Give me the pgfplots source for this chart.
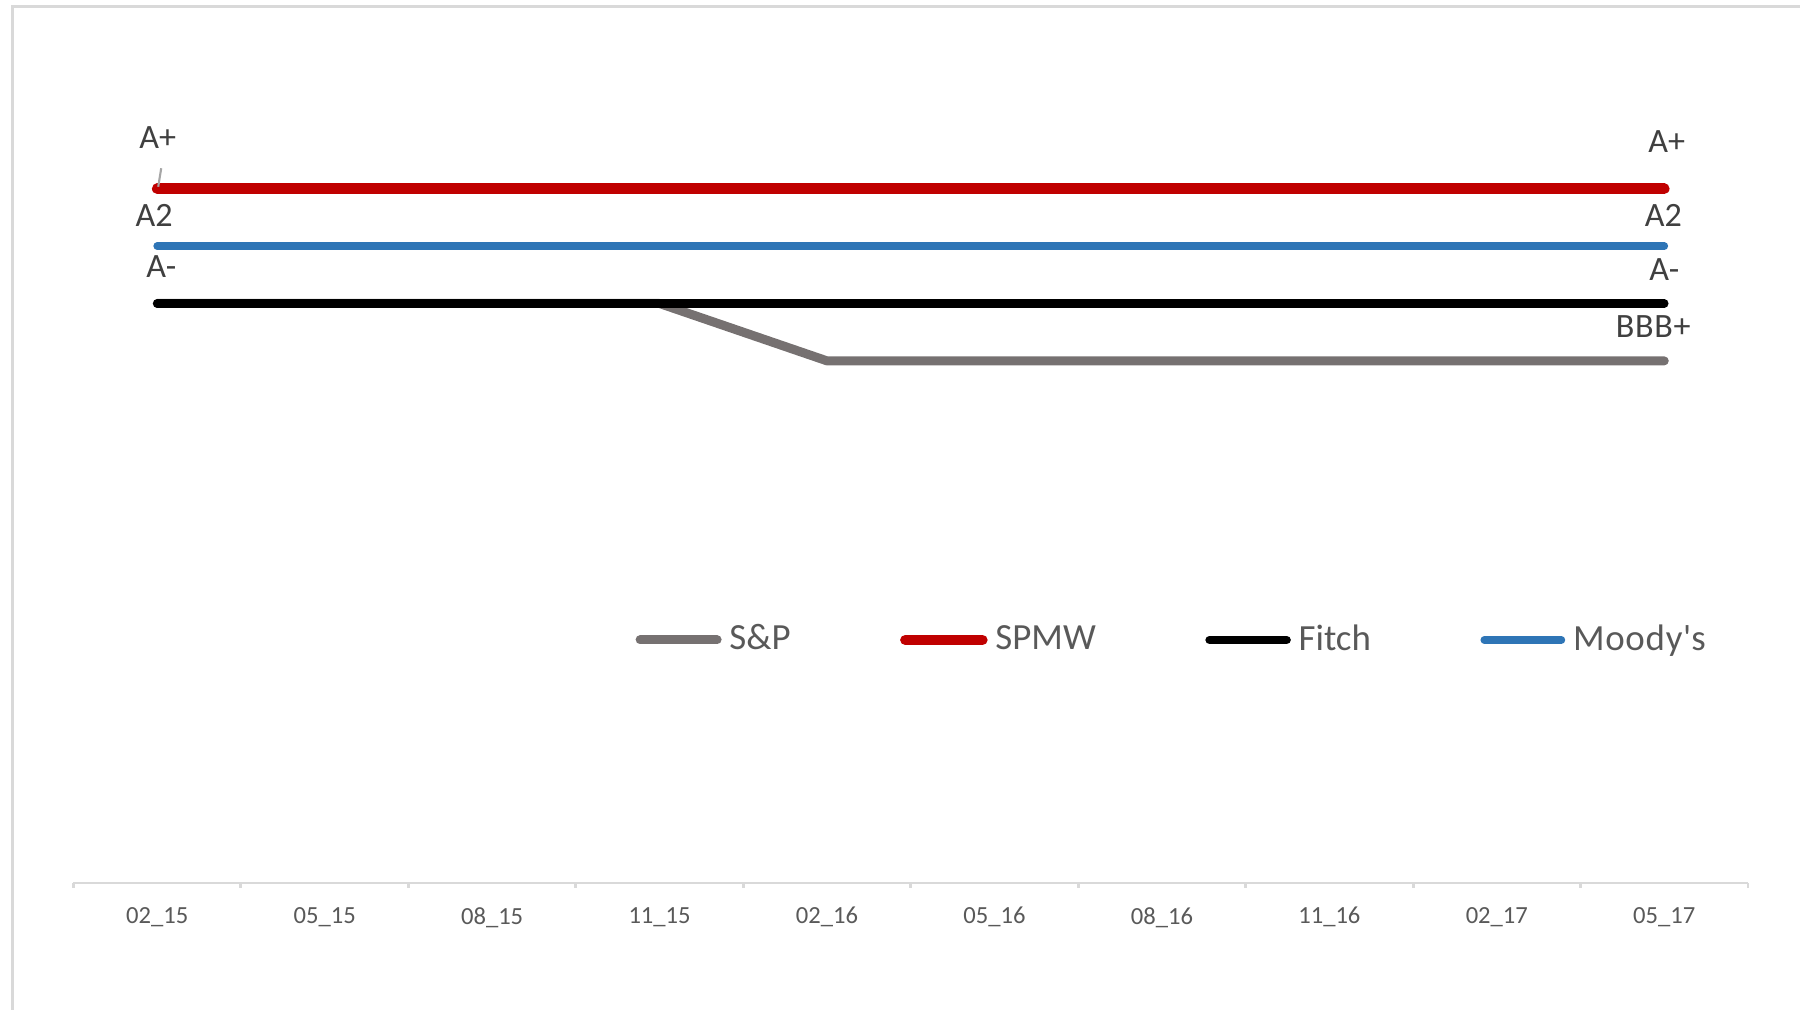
\documentclass[border=0pt]{standalone}
\usepackage{pgfplots}
\pgfplotsset{compat=1.18}
\usepackage{pgfplotstable}
\usepackage{fontspec}
\setmainfont{Carlito}
\definecolor{spgray}{HTML}{767171}
\definecolor{spmwred}{HTML}{C00000}
\definecolor{moodyblue}{HTML}{2E75B6}
\definecolor{axisgray}{HTML}{D9D9D9}
\definecolor{labgray}{HTML}{404040}
\definecolor{tickgray}{HTML}{595959}
\definecolor{leadgray}{HTML}{A6A6A6}

% rating scale: A+ = 12, A/A2 = 11, A- = 10, BBB+ = 9
\pgfplotstableread{
x sp spmw fitch moody
0 10 12 10 11
1 10 12 10 11
2 10 12 10 11
3 10 12 10 11
4 9  12 10 11
5 9  12 10 11
6 9  12 10 11
7 9  12 10 11
8 9  12 10 11
9 9  12 10 11
}\ratings

\begin{document}
\begin{tikzpicture}[x=1cm,y=1cm,
  lab/.style={font=\fontsize{9.7}{11}\selectfont, text=labgray, inner sep=0pt, anchor=center}]
\useasboundingbox (0,0) rectangle (18,10.1);
\draw[axisgray, line width=0.75pt] (0.125,-0.2) -- (0.125,10.035) -- (18.3,10.035);
\begin{axis}[
  at={(0.735cm,1.27cm)}, anchor=south west,
  scale only axis, width=16.745cm, height=8.09cm,
  xmin=-0.5, xmax=9.5, ymin=-0.1, ymax=14,
  clip=false,
  axis y line=none, axis x line=bottom,
  x axis line style={-, draw=axisgray, line width=0.85pt},
  xtick={0,...,9},
  xticklabels={02\_15,05\_15,08\_15,11\_15,02\_16,05\_16,08\_16,11\_16,02\_17,05\_17},
  major x tick style={draw=none},
  minor xtick={-0.5,0.5,1.5,2.5,3.5,4.5,5.5,6.5,7.5,8.5,9.5},
  minor x tick style={draw=axisgray, line width=0.85pt},
  minor tick length=0.05cm, major tick length=0cm, tick align=outside,
  xticklabel style={font=\fontsize{7}{8}\selectfont, text=tickgray, anchor=center, yshift=-0.343cm},
  legend columns=4,
  legend style={at={(0.3357,0.3004)}, anchor=west, draw=none, fill=none,
    inner sep=0pt, outer sep=0pt, font=\fontsize{10.5}{12}\selectfont, text=tickgray,
    nodes={inner sep=0pt},
    /tikz/every odd column/.append style={column sep=0.078cm},
    /tikz/every even column/.append style={column sep=1.095cm}},
  legend image code/.code={\draw[#1, line cap=round] (0cm,0cm) -- (0.77cm,0cm);},
]
\addplot[spgray, line width=2.56pt, line cap=round, line join=round, mark=none] table[x=x,y=sp]{\ratings};
\addplot[spmwred, line width=3pt, line cap=round, line join=round, mark=none] table[x=x,y=spmw]{\ratings};
\addplot[black, line width=2.42pt, line cap=round, line join=round, mark=none] table[x=x,y=fitch]{\ratings};
\addplot[moodyblue, line width=2.2pt, line cap=round, line join=round, mark=none] table[x=x,y=moody]{\ratings};
\legend{S\&P, SPMW, Fitch, M\kern0.02em o\kern0.02em o\kern0.02em d\kern0.02em y\kern0.02em\textquotesingle s}

% leader line of the first label
\draw[leadgray, line width=0.6pt] ([shift={(0.04cm,0.205cm)}]axis cs:0,12) -- ([shift={(0.01cm,0.02cm)}]axis cs:0,12);
% data labels, first point
\node[lab, xshift=0.005cm, yshift=0.515cm] at (axis cs:0,12) {A+};
\node[lab, xshift=-0.03cm, yshift=0.31cm] at (axis cs:0,11) {A2};
\node[lab, xshift=0.04cm, yshift=0.37cm] at (axis cs:0,10) {A-};
% data labels, last point
\node[lab, xshift=0.025cm, yshift=0.47cm] at (axis cs:9,12) {A+};
\node[lab, xshift=-0.01cm, yshift=0.31cm] at (axis cs:9,11) {A2};
\node[lab, xshift=0cm, yshift=0.34cm] at (axis cs:9,10) {A-};
\node[lab, xshift=-0.11cm, yshift=0.34cm] at (axis cs:9,9) {B\kern0.02em B\kern0.02em B\kern0.02em+};
\end{axis}
\end{tikzpicture}
\end{document}
